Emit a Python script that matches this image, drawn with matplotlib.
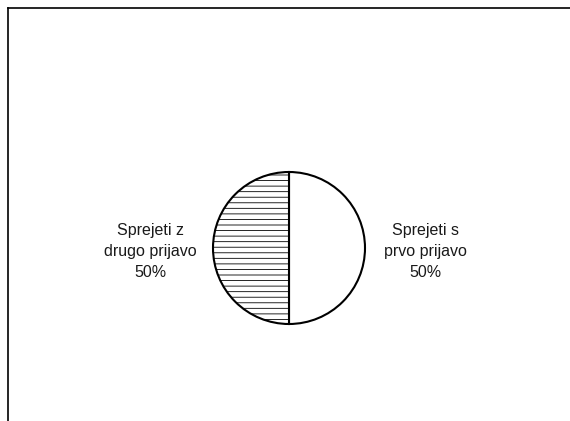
import matplotlib.pyplot as plt
from matplotlib.lines import Line2D

# Data for the pie
labels = ['Sprejeti s\nprvo prijavo', 'Sprejeti z\ndrugo prijavo']
values = [50, 50]
hatches = ['', '---']

plt.rcParams['font.family'] = ['Liberation Sans', 'DejaVu Sans']
plt.rcParams['hatch.linewidth'] = 0.6
plt.rcParams['hatch.color'] = '#333333'

fig = plt.figure(figsize=(5.7, 4.21), dpi=100)

# Axes sized so the pie sits where it does in the reference
r_px = 76
cx, cy = 289, 248
ax = fig.add_axes([(cx - r_px) / 570, (421 - cy - r_px) / 421, 2 * r_px / 570, 2 * r_px / 421])

wedges, _ = ax.pie(values, startangle=90, counterclock=False,
                   colors=['white', 'white'],
                   wedgeprops={'edgecolor': 'black', 'linewidth': 1.5})
for w, h in zip(wedges, hatches):
    w.set_hatch(h)
ax.set_xlim(-1, 1)
ax.set_ylim(-1, 1)

total = sum(values)
# Labels outside the pie
label_x = [1.79, -1.82]
for lab, v, x in zip(labels, values, label_x):
    ax.text(x, -0.04, f"{lab}\n{v / total * 100:.0f}%", ha='center', va='center',
            fontsize=11.5, linespacing=1.5, color='#1a1a1a', clip_on=False)

# Chart area border (top and left only visible)
fig.add_artist(Line2D([7.5 / 570, 7.5 / 570], [0, 1 - 8 / 421], color='black', lw=1.2, transform=fig.transFigure))
fig.add_artist(Line2D([7.5 / 570, 1], [1 - 8 / 421, 1 - 8 / 421], color='black', lw=1.2, transform=fig.transFigure))

plt.savefig('out.png', dpi=100)
